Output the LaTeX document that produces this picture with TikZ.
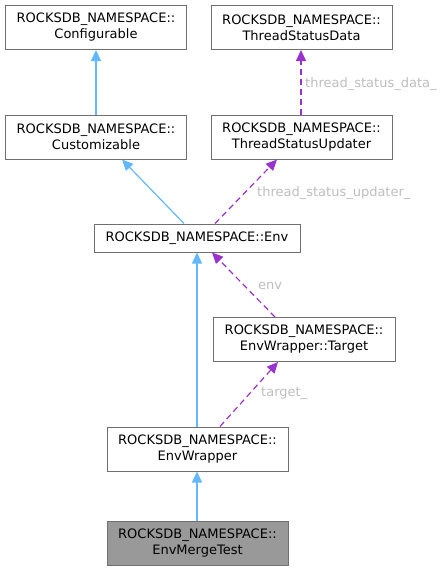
\documentclass[tikz,border=0pt]{standalone}
\usepackage{fontspec}
\setmainfont{DejaVu Sans}
\usetikzlibrary{arrows.meta}
\definecolor{boxborder}{HTML}{707070}
\definecolor{boxfill}{HTML}{999999}
\definecolor{inhcol}{HTML}{63B8FF}
\definecolor{usecol}{HTML}{9A32CD}
\definecolor{labcol}{HTML}{BEBEBE}
\tikzset{
  cls/.style={draw=boxborder, line width=1pt, fill=white, align=center, inner sep=0pt,
    minimum width=181pt, minimum height=44pt, font=\fontsize{13}{16}\selectfont},
  inh/.style={draw=inhcol, line width=1.2pt, -{Triangle[length=11pt,width=10pt]}},
  use/.style={draw=usecol, line width=1.2pt, dash pattern=on 6pt off 4pt, -{Triangle[length=11pt,width=10pt]}},
  lab/.style={text=labcol, inner sep=0pt, anchor=base west, font=\fontsize{13}{16}\selectfont},
}
\begin{document}
\begin{tikzpicture}[x=1pt,y=-1pt]
\useasboundingbox (0,0) rectangle (443,571);
\node[cls] (conf) at (96,27.5) {ROCKSDB\_NAMESPACE::\\Configurable};
\node[cls] (tsd) at (301.5,27.5) {ROCKSDB\_NAMESPACE::\\ThreadStatusData};
\node[cls] (cust) at (96,137) {ROCKSDB\_NAMESPACE::\\Customizable};
\node[cls] (tsu) at (301.5,137) {ROCKSDB\_NAMESPACE::\\ThreadStatusUpdater};
\node[cls, minimum width=206pt, minimum height=28pt] (env) at (197,238) {ROCKSDB\_NAMESPACE::Env};
\node[cls, minimum width=182pt] (tgt) at (304,339.5) {ROCKSDB\_NAMESPACE::\\EnvWrapper::Target};
\node[cls] (ew) at (197.5,449) {ROCKSDB\_NAMESPACE::\\EnvWrapper};
\node[cls, fill=boxfill] (emt) at (197.5,543) {ROCKSDB\_NAMESPACE::\\EnvMergeTest};

\draw[inh] (cust.north) -- (conf.south);
\draw[use] ([xshift=-0.5pt]tsu.north) -- ([xshift=-0.5pt]tsd.south);
\draw[inh] ([xshift=-13pt]env.north) -- ([xshift=26pt]cust.south);
\draw[use] ([xshift=18pt]env.north) -- ([xshift=-24.5pt]tsu.south);
\draw[use] ([xshift=-29pt]tgt.north) -- ([xshift=15pt]env.south);
\draw[inh] (ew.north -| env.south) -- (env.south);
\draw[use] ([xshift=22.5pt]ew.north) -- ([xshift=-26pt]tgt.south);
\draw[inh] (emt.north -| env.south) -- (ew.south -| env.south);

\node[lab] (l1) at (305,87) {thread\_status\_data\_};
\node[lab] (l2) at (257,196) {thread\_status\_updater\_};
\node[lab] (l3) at (258,289) {env};
\node[lab] (l4) at (261,396) {target\_};
\end{tikzpicture}
\end{document}
